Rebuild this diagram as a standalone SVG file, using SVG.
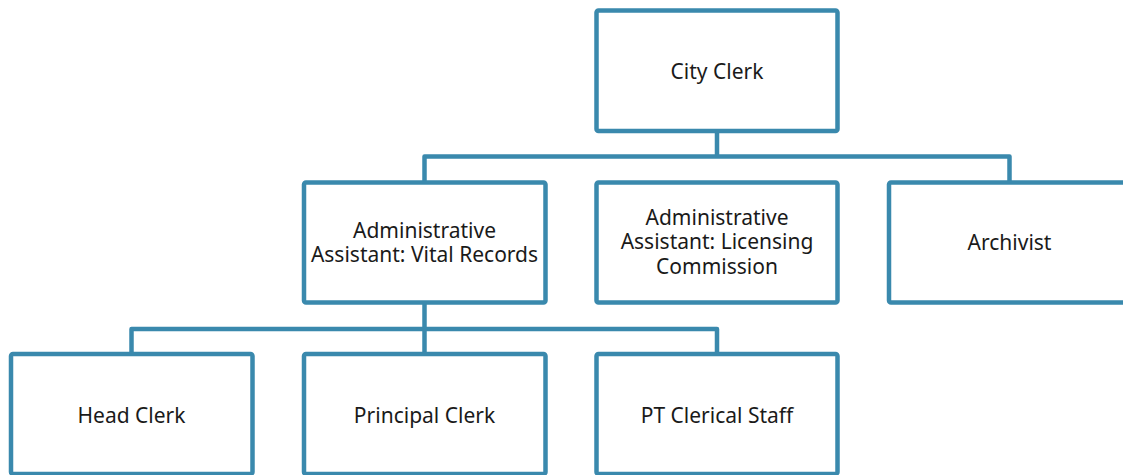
<svg xmlns="http://www.w3.org/2000/svg" width="1123" height="475" viewBox="0 0 1123 475">
<style>
.box{fill:#fff;stroke:#3a89ad;stroke-width:4.5}
.ln{fill:none;stroke:#3a89ad;stroke-width:4.5;stroke-linejoin:round}
text{font-family:"Noto Sans",Lato,sans-serif;font-size:21px;fill:#1a1a1a;text-anchor:middle}
</style>
<rect width="1123" height="475" fill="#fff"/>
<g id="connectors">
<path class="ln" d="M717 131 V156.5 M424.5 182.5 V156.5 H1009.5 V182.5"/>
<path class="ln" d="M424.5 302.5 V329 M131.5 354 V329 H717 V354 M424.5 329 V354"/>
</g>
<g id="city-clerk"><rect class="box" x="596.5" y="10.5" width="241" height="120.5" rx="2"/><text x="717" y="79">City Clerk</text></g>
<g id="aa-vital"><rect class="box" x="304" y="182.5" width="241.5" height="120" rx="2"/><text x="424.5" y="238">Administrative<tspan x="424.5" y="262">Assistant: Vital Records</tspan></text></g>
<g id="aa-licensing"><rect class="box" x="596.5" y="182.5" width="241" height="120" rx="2"/><text x="717" y="225">Administrative<tspan x="717" y="249">Assistant: Licensing</tspan><tspan x="717" y="274">Commission</tspan></text></g>
<g id="archivist"><rect class="box" x="889" y="182.5" width="241" height="120" rx="2"/><text x="1009.5" y="250">Archivist</text></g>
<g id="head-clerk"><rect class="box" x="11" y="354" width="241.5" height="120" rx="2"/><text x="131.5" y="422.5">Head Clerk</text></g>
<g id="principal-clerk"><rect class="box" x="304" y="354" width="241.5" height="120" rx="2"/><text x="424.5" y="422.5">Principal Clerk</text></g>
<g id="pt-clerical"><rect class="box" x="596.5" y="354" width="241" height="120" rx="2"/><text x="717" y="422.5">PT Clerical Staff</text></g>
</svg>
